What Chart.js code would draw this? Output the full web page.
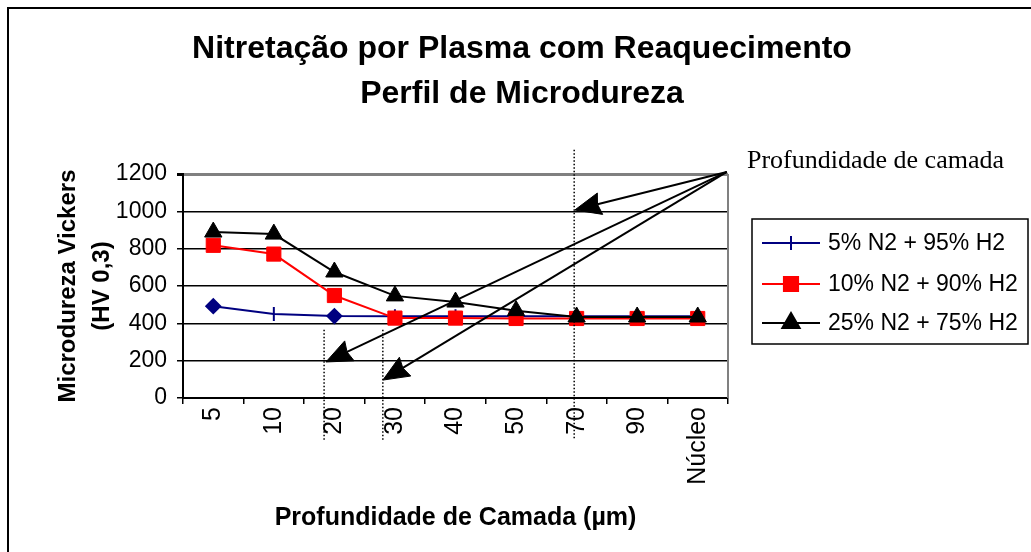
<!DOCTYPE html>
<html lang="pt">
<head>
    <meta charset="UTF-8">
    <title>Perfil de Microdureza</title>
    <script src="https://cdn.jsdelivr.net/npm/chart.js"></script>
    <style>
        body { margin: 0; background: #fff; }
        #wrap { position: relative; width: 1031px; height: 552px; }
    </style>
</head>
<body>
    <div id="wrap">
        <canvas id="durezaChart"></canvas>
    </div>

    <script>
        // Depth categories and hardness readings (HV 0,3)
        const depths = ['5', '10', '20', '30', '40', '50', '70', '90', 'Núcleo'];
        const hv5 = [492, 450, 439, 438, 438, 438, 438, 438, 438];
        const hv10 = [818, 771, 549, 428, 428, 426, 426, 426, 426];
        const hv25 = [889, 878, 675, 547, 514, 468, 434, 434, 434];
        const seriesNames = ['5% N2 + 95% H2', '10% N2 + 90% H2', '25% N2 + 75% H2'];
        const yMin = 0, yMax = 1200, yStep = 200;

        // Marker per point of the 5% series (some points were diamonds, others the dash)
        const hv5Styles = ['rectRot', 'line', 'rectRot', 'line', 'line', 'line', 'line', 'line', 'line'];
        const hv5Rotation = [0, 90, 0, 90, 90, 90, 90, 90, 90];

        // "Profundidade de camada" callout: marked depths (category index) and arrow targets
        const markIdx = [1.83, 2.80, 5.96];
        const markTop = [365, 365, 1330];
        const markBottom = -225;
        const calloutFrom = [8.48, 1211];
        const calloutTips = [[5.97, 1007], [1.86, 193], [2.80, 96]];
        const calloutText = 'Profundidade de camada';

        const titleLines = ['Nitretação por Plasma com Reaquecimento', 'Perfil de Microdureza'];

        const SANS = "'Liberation Sans', Arial, sans-serif";
        const SERIF = "'Liberation Serif', 'Times New Roman', serif";

        // straight line with a solid, slightly notched head at (x1, y1)
        function arrow(ctx, x0, y0, x1, y1) {
            const a = Math.atan2(y1 - y0, x1 - x0);
            const len = 26, half = 11;
            const cos = Math.cos(a), sin = Math.sin(a);
            const bx = x1 - len * cos, by = y1 - len * sin;
            const nx = x1 - len * 0.9 * cos, ny = y1 - len * 0.9 * sin;
            ctx.beginPath();
            ctx.moveTo(x0, y0);
            ctx.lineTo(nx, ny);
            ctx.stroke();
            ctx.beginPath();
            ctx.moveTo(x1, y1);
            ctx.lineTo(bx + half * sin, by - half * cos);
            ctx.lineTo(nx, ny);
            ctx.lineTo(bx - half * sin, by + half * cos);
            ctx.closePath();
            ctx.fill();
            ctx.lineWidth = 1;
            ctx.stroke();
            ctx.lineWidth = 2;
        }

        const decorPlugin = {
            id: 'decor',
            beforeDatasetsDraw(chart) {
                const {ctx, chartArea} = chart;
                // grey right edge of the plot area
                ctx.save();
                ctx.strokeStyle = '#808080';
                ctx.lineWidth = 2;
                ctx.beginPath();
                ctx.moveTo(chartArea.right, chartArea.top);
                ctx.lineTo(chartArea.right, chartArea.bottom);
                ctx.stroke();
                ctx.restore();
            },
            afterDatasetsDraw(chart) {
                const {ctx, scales: {x, y}} = chart;
                ctx.save();
                // dotted depth markers
                ctx.strokeStyle = '#000';
                ctx.lineWidth = 1.5;
                ctx.setLineDash([1.5, 2]);
                markIdx.forEach((m, i) => {
                    const px = x.getPixelForValue(m);
                    ctx.beginPath();
                    ctx.moveTo(px, y.getPixelForValue(markTop[i]));
                    ctx.lineTo(px, y.getPixelForValue(markBottom));
                    ctx.stroke();
                });
                ctx.setLineDash([]);
                // callout arrows
                ctx.lineWidth = 2;
                ctx.lineJoin = 'miter';
                ctx.fillStyle = '#000';
                const fx = x.getPixelForValue(calloutFrom[0]);
                const fy = y.getPixelForValue(calloutFrom[1]);
                calloutTips.forEach(t => {
                    arrow(ctx, fx, fy, x.getPixelForValue(t[0]), y.getPixelForValue(t[1]));
                });
                ctx.restore();
            },
            afterDraw(chart) {
                const {ctx} = chart;
                ctx.save();
                // outer frame (left and top edges)
                ctx.strokeStyle = '#000';
                ctx.lineWidth = 2;
                ctx.beginPath();
                ctx.moveTo(8, 552);
                ctx.lineTo(8, 8);
                ctx.lineTo(1031, 8);
                ctx.stroke();

                // title
                ctx.fillStyle = '#000';
                ctx.textAlign = 'center';
                ctx.textBaseline = 'alphabetic';
                ctx.font = 'bold 32px ' + SANS;
                ctx.fillText(titleLines[0], 522, 58);
                ctx.fillText(titleLines[1], 522, 103);

                // callout label
                ctx.textAlign = 'left';
                ctx.font = '26px ' + SERIF;
                ctx.fillText(calloutText, 747, 168);

                // legend box
                ctx.lineWidth = 1.5;
                ctx.strokeRect(752, 219, 276, 125);
                const rows = [243, 284, 323];
                const metas = chart.data.datasets;
                ctx.font = '23px ' + SANS;
                ctx.textBaseline = 'middle';
                metas.forEach((ds, i) => {
                    const ry = rows[i];
                    ctx.strokeStyle = ds.borderColor;
                    ctx.fillStyle = ds.backgroundColor;
                    ctx.lineWidth = 2;
                    ctx.beginPath();
                    ctx.moveTo(762, ry);
                    ctx.lineTo(820, ry);
                    ctx.stroke();
                    const style = Array.isArray(ds.pointStyle) ? 'line' : ds.pointStyle;
                    const rot = Array.isArray(ds.pointStyle) ? 90 : 0;
                    const rad = Array.isArray(ds.pointStyle) ? 7 : ds.pointRadius;
                    Chart.helpers.drawPoint(ctx, {pointStyle: style, rotation: rot, radius: rad, borderWidth: 2}, 791, ry);
                    ctx.fillStyle = '#000';
                    ctx.fillText(seriesNames[i], 828, ry + 1);
                });
                ctx.restore();
            }
        };

        const ctx = document.getElementById('durezaChart').getContext('2d');
        const durezaChart = new Chart(ctx, {
            type: 'line',
            data: {
                labels: depths,
                datasets: [{
                    label: seriesNames[0],
                    data: hv5,
                    borderColor: '#000080',
                    backgroundColor: '#000080',
                    borderWidth: 2,
                    pointStyle: hv5Styles,
                    pointRotation: hv5Rotation,
                    pointRadius: 7,
                    pointBorderWidth: 2,
                    order: 3
                }, {
                    label: seriesNames[1],
                    data: hv10,
                    borderColor: '#ff0000',
                    backgroundColor: '#ff0000',
                    borderWidth: 2,
                    pointStyle: 'rect',
                    pointRadius: 10,
                    pointBorderWidth: 1,
                    order: 2
                }, {
                    label: seriesNames[2],
                    data: hv25,
                    borderColor: '#000000',
                    backgroundColor: '#000000',
                    borderWidth: 2,
                    pointStyle: 'triangle',
                    pointRadius: 10,
                    pointBorderWidth: 1,
                    order: 1
                }]
            },
            options: {
                responsive: true,
                maintainAspectRatio: false,
                animation: false,
                events: [],
                layout: { padding: { left: 0, top: 174, right: 303, bottom: 0 } },
                plugins: {
                    legend: { display: false },
                    title: { display: false },
                    tooltip: { enabled: false }
                },
                scales: {
                    x: {
                        offset: true,
                        afterFit: s => { s.height = 154; },
                        grid: {
                            offset: true,
                            drawOnChartArea: false,
                            tickLength: 6,
                            color: '#000',
                            lineWidth: 1.5
                        },
                        border: { color: '#000', width: 2 },
                        ticks: {
                            color: '#000',
                            font: { family: SANS, size: 25 },
                            minRotation: 90,
                            maxRotation: 90,
                            autoSkip: false,
                            padding: 3
                        },
                        title: {
                            display: true,
                            text: 'Profundidade de Camada (µm)',
                            color: '#000',
                            font: { family: SANS, size: 25, weight: 'bold' },
                            padding: { top: 0, bottom: 19 }
                        }
                    },
                    y: {
                        min: yMin,
                        max: yMax,
                        afterFit: s => { s.width = 183; },
                        grid: {
                            color: c => c.tick && c.tick.value === yMax ? '#808080' : '#000',
                            lineWidth: c => c.tick && c.tick.value === yMax ? 3 : 1.5,
                            tickColor: '#000',
                            tickLength: 6
                        },
                        border: { color: '#000', width: 2 },
                        ticks: {
                            stepSize: yStep,
                            color: '#000',
                            font: { family: SANS, size: 23 },
                            padding: 10,
                            callback: v => String(v)
                        },
                        title: {
                            display: true,
                            text: ['Microdureza Vickers', '(HV 0,3)'],
                            color: '#000',
                            font: { family: SANS, size: 24, weight: 'bold', lineHeight: 1.4 },
                            padding: { top: 52, bottom: 0 }
                        }
                    }
                }
            },
            plugins: [decorPlugin]
        });
    </script>
</body>
</html>
